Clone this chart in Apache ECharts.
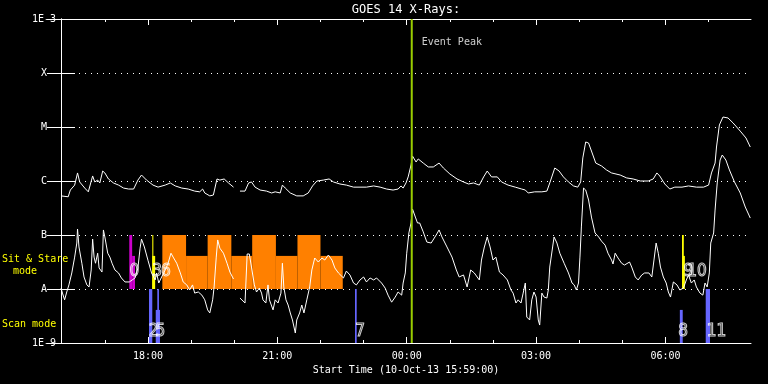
<!DOCTYPE html>
<html><head><meta charset="utf-8">
<script src="https://cdn.jsdelivr.net/npm/echarts@6/dist/echarts.min.js"></script>
<style>html,body{margin:0;padding:0;background:#000}#c{width:768px;height:384px}</style>
</head><body><div id="c"></div>
<script>
// ---- data (x = minutes after start time 10-Oct-13 15:59:00, y = flux W/m^2) ----
const chartTitle = 'GOES 14 X-Rays:';
const startLabel = 'Start Time (10-Oct-13 15:59:00)';
const startClockMin = 15 * 60 + 59;
const hourTicks = [1, 61, 121, 181, 241, 301, 361, 421, 481, 541, 601, 661, 721, 781, 841, 901];
const majorTicks = [121, 301, 481, 661, 841];
const yTickLabels = ['1E-9', 'A', 'B', 'C', 'M', 'X', '1E-3'];

const goesLong = [[0,5.3e-7],[10,5.1e-7],[13,6.8e-7],[19,8.4e-7],[23,1.41e-6],[26,9.6e-7],[33,7.4e-7],[38,6.3e-7],[40,6.8e-7],[44,1.24e-6],[47,9.6e-7],[51,1.04e-6],[54,9.2e-7],[58,1.53e-6],[61,1.41e-6],[66,1.09e-6],[73,9.2e-7],[80,8.4e-7],[87,7.4e-7],[94,7.1e-7],[101,7.1e-7],[107,1.04e-6],[112,1.29e-6],[119,1.04e-6],[128,8.4e-7],[135,7.7e-7],[145,8.4e-7],[152,9.2e-7],[159,8.1e-7],[168,7.4e-7],[177,7.1e-7],[186,6.5e-7],[193,6.3e-7],[197,7.1e-7],[200,6.0e-7],[207,5.3e-7],[212,5.5e-7],[217,1.09e-6],[221,1.04e-6],[227,1.09e-6],[233,9.2e-7],[240,7.7e-7],[244,'-'],[249,6.5e-7],[256,6.5e-7],[261,9.2e-7],[265,9.6e-7],[270,7.7e-7],[277,6.8e-7],[286,6.5e-7],[293,6.0e-7],[298,6.3e-7],[305,6.0e-7],[308,8.4e-7],[312,7.4e-7],[319,6.0e-7],[328,5.3e-7],[337,5.3e-7],[344,6.0e-7],[350,8.1e-7],[356,1.0e-6],[365,1.04e-6],[373,1.09e-6],[379,9.6e-7],[388,8.8e-7],[397,8.4e-7],[407,7.7e-7],[416,7.7e-7],[425,7.7e-7],[435,8.1e-7],[444,7.7e-7],[453,7.1e-7],[462,6.8e-7],[469,7.1e-7],[473,8.1e-7],[476,7.4e-7],[480,9.2e-7],[483,1.19e-6],[487,1.98e-6],[489,2.9e-6],[494,2.25e-6],[497,2.56e-6],[504,2.15e-6],[511,1.82e-6],[518,1.82e-6],[526,2.15e-6],[532,1.74e-6],[541,1.35e-6],[551,1.09e-6],[560,9.6e-7],[567,8.8e-7],[574,9.2e-7],[582,8.4e-7],[588,1.19e-6],[593,1.53e-6],[599,1.19e-6],[607,1.19e-6],[613,9.6e-7],[622,8.4e-7],[632,7.7e-7],[641,7.1e-7],[646,6.8e-7],[650,6.0e-7],[659,6.3e-7],[669,6.3e-7],[676,6.5e-7],[680,9.2e-7],[687,1.74e-6],[693,1.53e-6],[699,1.19e-6],[706,9.6e-7],[713,8.1e-7],[719,7.7e-7],[723,9.6e-7],[726,2.67e-6],[730,5.28e-6],[734,5.05e-6],[740,3.03e-6],[744,2.15e-6],[752,1.9e-6],[759,1.6e-6],[766,1.41e-6],[778,1.29e-6],[787,1.14e-6],[796,1.09e-6],[806,1.0e-6],[817,1.0e-6],[824,1.09e-6],[829,1.41e-6],[833,1.24e-6],[840,8.8e-7],[847,7.1e-7],[854,7.7e-7],[864,7.7e-7],[873,8.1e-7],[884,7.7e-7],[894,7.7e-7],[901,8.4e-7],[905,1.41e-6],[910,2.15e-6],[912,4.26e-6],[916,1.09e-5],[921,1.53e-5],[928,1.47e-5],[935,1.19e-5],[945,8.4e-6],[953,6.26e-6],[959,4.26e-6]];

const goesShort = [[0,1.04e-8],[2,8.4e-9],[5,6.3e-9],[8,8.8e-9],[11,1.19e-8],[15,1.98e-8],[19,3.9e-8],[22,7.1e-8],[23,1.29e-7],[25,6.0e-8],[29,3.0e-8],[32,1.67e-8],[36,1.19e-8],[39,1.09e-8],[42,2.25e-8],[44,8.4e-8],[46,3.9e-8],[48,3.0e-8],[51,4.6e-8],[53,2.45e-8],[57,2.06e-8],[59,1.24e-7],[61,9.2e-8],[65,4.6e-8],[68,3.9e-8],[71,3.0e-8],[75,2.25e-8],[80,1.98e-8],[84,1.6e-8],[89,1.35e-8],[95,1.35e-8],[99,1.47e-8],[103,1.6e-8],[107,2.45e-8],[110,5.7e-8],[112,8.4e-8],[116,6.0e-8],[121,3.4e-8],[126,1.98e-8],[131,1.47e-8],[133,1.98e-8],[136,1.29e-8],[140,1.67e-8],[145,2.25e-8],[149,3.0e-8],[153,4.6e-8],[156,3.9e-8],[161,3.0e-8],[166,1.98e-8],[170,1.35e-8],[175,1.19e-8],[179,9.6e-9],[183,1.19e-8],[186,8.4e-9],[191,8.8e-9],[196,7.7e-9],[200,6.3e-9],[204,4.1e-9],[207,3.6e-9],[211,6.3e-9],[213,1.09e-8],[216,3.9e-8],[218,8.1e-8],[221,5.7e-8],[226,4.6e-8],[231,3.0e-8],[235,2.06e-8],[240,1.53e-8],[244,'-'],[249,6.8e-9],[256,5.5e-9],[257,1.09e-8],[259,4.45e-8],[262,4.45e-8],[265,2.55e-8],[269,1.19e-8],[272,8.8e-9],[276,1.04e-8],[279,8.4e-9],[281,6.3e-9],[285,5.5e-9],[288,1.19e-8],[290,6.3e-9],[295,4.1e-9],[298,6.3e-9],[302,5.5e-9],[306,8.4e-9],[308,3.0e-8],[310,1.09e-8],[313,6.3e-9],[316,5.05e-9],[319,3.6e-9],[322,2.67e-9],[326,1.53e-9],[328,2.67e-9],[332,3.6e-9],[335,5.05e-9],[338,3.6e-9],[342,6.3e-9],[346,1.09e-8],[349,2.25e-8],[353,3.75e-8],[358,3.16e-8],[363,3.75e-8],[367,3.44e-8],[372,4.26e-8],[377,3.44e-8],[381,2.45e-8],[386,1.98e-8],[393,1.6e-8],[397,2.15e-8],[402,1.82e-8],[407,1.29e-8],[411,1.19e-8],[416,1.47e-8],[421,1.67e-8],[425,1.35e-8],[430,1.6e-8],[435,1.47e-8],[439,1.6e-8],[446,1.29e-8],[451,1.04e-8],[455,7.7e-9],[460,5.7e-9],[465,7.1e-9],[469,8.8e-9],[474,7.7e-9],[476,1.29e-8],[479,1.98e-8],[481,4.6e-8],[484,1.09e-7],[487,1.67e-7],[489,3.03e-7],[493,2.15e-7],[496,1.67e-7],[499,1.67e-7],[504,1.14e-7],[509,7.4e-8],[515,7.1e-8],[522,1.0e-7],[526,1.24e-7],[530,9.2e-8],[537,6.0e-8],[544,3.9e-8],[550,2.25e-8],[554,1.67e-8],[560,1.82e-8],[565,1.09e-8],[570,2.25e-8],[575,1.98e-8],[578,1.74e-8],[582,1.47e-8],[585,3.44e-8],[589,6.0e-8],[593,9.2e-8],[597,6.0e-8],[601,3.44e-8],[605,3.9e-8],[610,2.06e-8],[615,1.82e-8],[621,1.47e-8],[626,9.6e-9],[629,8.4e-9],[633,5.5e-9],[636,6.3e-9],[640,5.5e-9],[643,8.4e-9],[646,1.29e-8],[648,3.03e-9],[652,2.67e-9],[655,6.3e-9],[658,8.8e-9],[661,7.1e-9],[664,2.67e-9],[666,2.15e-9],[669,8.4e-9],[672,7.1e-9],[676,6.8e-9],[678,9.6e-9],[680,2.55e-8],[684,6.0e-8],[686,9.2e-8],[690,7.1e-8],[694,4.6e-8],[700,3.0e-8],[706,1.98e-8],[711,1.29e-8],[714,1.19e-8],[717,9.6e-9],[720,1.29e-8],[722,3.9e-8],[724,1.41e-7],[727,7.4e-7],[730,6.8e-7],[734,4.45e-7],[738,2.15e-7],[743,1.09e-7],[748,9.2e-8],[752,7.7e-8],[757,6.5e-8],[761,4.6e-8],[766,3.44e-8],[768,2.9e-8],[771,4.6e-8],[775,3.75e-8],[780,3.0e-8],[784,2.78e-8],[791,3.16e-8],[794,2.55e-8],[799,1.67e-8],[803,1.47e-8],[808,1.82e-8],[812,1.98e-8],[818,1.98e-8],[822,1.67e-8],[825,3.44e-8],[828,7.1e-8],[831,4.6e-8],[834,2.55e-8],[838,1.67e-8],[842,1.29e-8],[845,8.8e-9],[848,7.1e-9],[852,1.35e-8],[857,1.19e-8],[861,9.6e-9],[866,1.04e-8],[870,1.47e-8],[873,1.82e-8],[877,1.29e-8],[881,1.47e-8],[884,1.09e-8],[889,8.4e-9],[893,7.7e-9],[896,1.29e-8],[899,1.09e-8],[902,1.98e-8],[904,7.1e-8],[908,1.09e-7],[910,2.9e-7],[913,9.2e-7],[917,2.45e-6],[920,3.03e-6],[925,2.45e-6],[930,1.6e-6],[937,9.6e-7],[945,6.0e-7],[952,3.3e-7],[959,2.06e-7]];

// observation bars: [start, end, top]
const magentaBars = [[95, 99, 1e-7], [99, 103, 4.1e-8]];
const yellowBars = [[127, 131, 4.1e-8], [127, 128.5, 1e-7], [864, 868, 4.1e-8], [864, 866.5, 1e-7]];
const orangeBars = [[141, 174, 1e-7], [174, 204, 4.1e-8], [204, 237, 1e-7], [237, 266, 4.1e-8], [266, 299, 1e-7], [299, 329, 4.1e-8], [329, 361, 1e-7], [361, 392, 4.1e-8]];
const scanBars = [[122.4, 127, 1e-8], [131.8, 137.7, 4.1e-9], [134, 136.3, 1e-8], [409, 411.4, 1e-8], [861, 865, 4.1e-9], [897, 903, 1e-8]];
const stareLabels = [[102, '0'], [133.6, '3'], [146, '6'], [873, '9'], [885, '10']];
const scanLabels = [[128.7, '2'], [138.4, '5'], [416, '7'], [865.4, '8'], [912, '11']];
const eventPeak = 488;
const eventText = 'Event Peak';

// ---- chart ----
const FONT = "'DejaVu Sans Mono', monospace";
const stareBase = 1e-8, scanBase = 1e-9;
const stareLabelLevel = 2.06e-8, scanLabelLevel = 1.6e-9, eventLabelLevel = 3.67e-4;

function pad(n) { return (n < 10 ? '0' : '') + n; }
function clock(v) {
  const t = ((startClockMin + Math.round(v)) % 1440 + 1440) % 1440;
  return pad(Math.floor(t / 60)) + ':' + pad(t % 60);
}

function barSeries(data, base, color) {
  return {
    type: 'custom', silent: true, z: 1, animation: false,
    data: data.map(d => [d[0], d[1], d[2], base]),
    encode: { x: [0, 1], y: [2, 3] },
    renderItem: (params, api) => {
      const a = api.coord([api.value(0), api.value(3)]);
      const b = api.coord([api.value(1), api.value(2)]);
      return { type: 'rect', shape: { x: a[0], y: b[1], width: b[0] - a[0], height: a[1] - b[1] }, style: { fill: color } };
    }
  };
}
function labelSeries(items, level) {
  return {
    type: 'scatter', silent: true, z: 6, symbolSize: 0, animation: false,
    data: items.map(d => [d[0], level, d[1]]),
    label: {
      show: true, position: 'inside', formatter: p => p.value[2],
      fontFamily: "'Liberation Sans Narrow', 'DejaVu Sans Condensed', sans-serif", fontSize: 17,
      color: 'rgba(0,0,0,0)', textBorderColor: '#fff', textBorderWidth: 1
    }
  };
}

const xBase = { type: 'value', min: 0, max: 960, splitLine: { show: false } };
const yBase = { type: 'log', logBase: 10, min: 1e-9, max: 1e-3 };
const white = { color: '#fff', width: 1 };

const option = {
  backgroundColor: '#000',
  animation: false,
  grid: { left: 61, right: 17, top: 19, bottom: 41, containLabel: false },
  xAxis: [
    Object.assign({}, xBase, {
      position: 'bottom', axisLine: { lineStyle: white },
      axisTick: { inside: true, length: 3, customValues: hourTicks, lineStyle: white },
      axisLabel: { customValues: majorTicks, formatter: clock, color: '#fff', fontFamily: FONT, fontSize: 10, margin: 8 },
      name: startLabel, nameLocation: 'middle', nameGap: 20,
      nameTextStyle: { color: '#fff', fontFamily: FONT, fontSize: 10 }
    }),
    Object.assign({}, xBase, {
      position: 'bottom', axisLine: { show: false },
      axisTick: { inside: true, length: 6, customValues: majorTicks, lineStyle: white },
      axisLabel: { show: false }
    }),
    Object.assign({}, xBase, {
      position: 'top', axisLine: { lineStyle: white },
      axisTick: { inside: true, length: 3, customValues: hourTicks, lineStyle: white },
      axisLabel: { show: false }
    }),
    Object.assign({}, xBase, {
      position: 'top', axisLine: { show: false },
      axisTick: { inside: true, length: 6, customValues: majorTicks, lineStyle: white },
      axisLabel: { show: false }
    })
  ],
  yAxis: [
    Object.assign({}, yBase, {
      position: 'left', axisLine: { show: true, lineStyle: white },
      axisTick: { show: true, inside: true, length: 14, lineStyle: white },
      axisLabel: {
        formatter: v => yTickLabels[Math.round(Math.log10(v)) + 9],
        align: 'center', margin: 17, color: '#fff', fontFamily: FONT, fontSize: 10
      },
      splitLine: { show: true, lineStyle: { color: '#fff', width: 1, type: [1, 5] } }
    }),
    Object.assign({}, yBase, {
      position: 'right', axisLine: { show: true, lineStyle: white },
      axisTick: { show: true, inside: true, length: 14, lineStyle: white },
      axisLabel: { show: false }, splitLine: { show: false }
    })
  ],
  graphic: [
    { type: 'text', x: 406, y: 10, style: { text: chartTitle, fill: '#fff', font: "12px 'DejaVu Sans Mono', monospace", align: 'center', verticalAlign: 'middle', textAlign: 'center', textVerticalAlign: 'middle' } },
    { type: 'text', x: 2, y: 259, style: { text: 'Sit & Stare', fill: '#ffff00', font: "10px 'DejaVu Sans Mono', monospace", align: 'left', verticalAlign: 'middle', textVerticalAlign: 'middle' } },
    { type: 'text', x: 13, y: 271, style: { text: 'mode', fill: '#ffff00', font: "10px 'DejaVu Sans Mono', monospace", align: 'left', verticalAlign: 'middle', textVerticalAlign: 'middle' } },
    { type: 'text', x: 2, y: 324, style: { text: 'Scan mode', fill: '#ffff00', font: "10px 'DejaVu Sans Mono', monospace", align: 'left', verticalAlign: 'middle', textVerticalAlign: 'middle' } }
  ],
  series: [
    barSeries(orangeBars, stareBase, '#ff8000'),
    barSeries(magentaBars, stareBase, '#cc00cc'),
    barSeries(yellowBars, stareBase, '#ffff00'),
    barSeries(scanBars, scanBase, '#6666ff'),
    { type: 'line', name: 'GOES long', data: goesLong, showSymbol: false, symbol: 'none', connectNulls: false, z: 3,
      lineStyle: { color: '#fff', width: 1 }, silent: true },
    { type: 'line', name: 'GOES short', data: goesShort, showSymbol: false, symbol: 'none', connectNulls: false, z: 3,
      lineStyle: { color: '#fff', width: 1 }, silent: true },
    { type: 'line', name: 'Event peak', data: [[eventPeak, 1e-9], [eventPeak, 1e-3]], showSymbol: false, symbol: 'none', z: 4,
      lineStyle: { color: '#99cc00', width: 2 }, silent: true },
    { type: 'scatter', silent: true, z: 6, symbolSize: 0, data: [[eventPeak, eventLabelLevel]],
      label: { show: true, position: 'right', distance: 10, formatter: eventText, color: '#fff', fontFamily: FONT, fontSize: 10 } },
    labelSeries(stareLabels, stareLabelLevel),
    labelSeries(scanLabels, scanLabelLevel)
  ]
};

const chart = echarts.init(document.getElementById('c'), null, { renderer: 'canvas' });
chart.setOption(option);
</script>
</body></html>
